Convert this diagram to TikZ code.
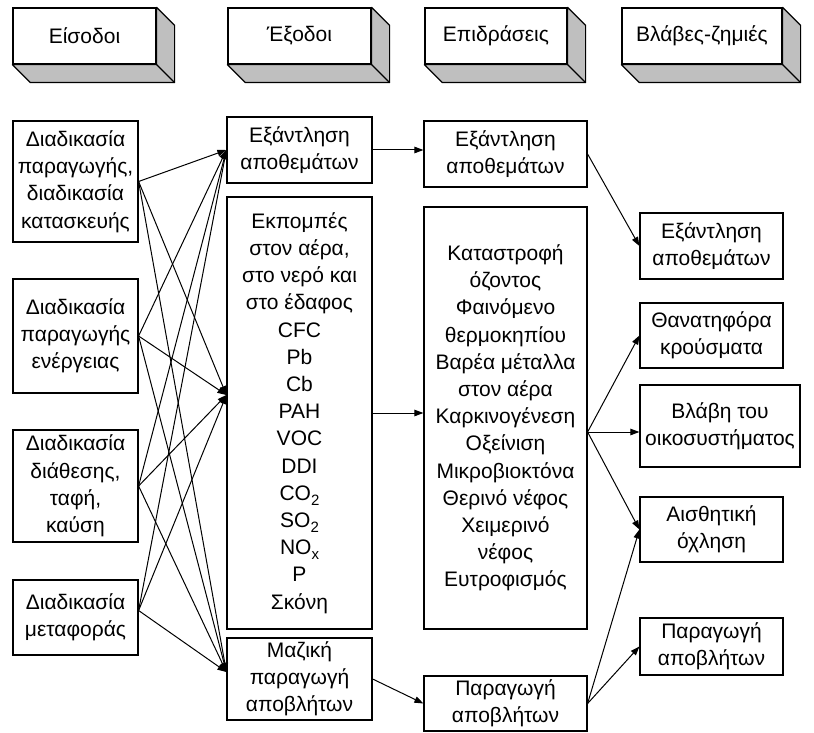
\documentclass[tikz,border=0pt]{standalone}
\usepackage{fontspec}
\setmainfont{Liberation Sans}
\usetikzlibrary{arrows.meta,calc}
\newcommand\mysub[1]{\raisebox{-5pt}{\fontsize{15}{15}\selectfont #1}}
\begin{document}
\begin{tikzpicture}[x=1pt,y=-1pt,
  box/.style={draw,line width=1.2pt,fill=white,inner sep=0pt,align=center,
    font=\fontsize{21}{27.2}\selectfont},
  hdr/.style={box,minimum height=56pt},
  side/.style={draw,line width=1.2pt,fill=black!25,line join=round},
  conn/.style={line width=1pt,-{Triangle[length=9pt,width=6.5pt]}},
]
\useasboundingbox (0,0) rectangle (814,733);
\newcommand\mycuboid[1]{%
  \filldraw[side] (#1.north east) -- ++(18,18) -- ($(#1.south east)+(18,18)$)
    -- ($(#1.south west)+(18,18)$) -- (#1.south west) -- (#1.south east) -- cycle;
  \draw[line width=1.2pt] (#1.south east) -- ++(18,18);}

% headers
\node[hdr,minimum width=143pt] (h1) at (84.5,36) {Είσοδοι};
\node[hdr,minimum width=143pt] (h2) at (299.5,36) {Έξοδοι};
\node[hdr,minimum width=142pt] (h3) at (496,36) {Επιδράσεις};
\node[hdr,minimum width=160pt] (h4) at (702,36) {Βλάβες-ζημιές};
\mycuboid{h1}\mycuboid{h2}\mycuboid{h3}\mycuboid{h4}

% column 1
\node[box,minimum width=125pt,minimum height=121pt] (a1) at (75.5,181.5)
  {Διαδικασία\\παραγωγής,\\διαδικασία\\κατασκευής};
\node[box,minimum width=125pt,minimum height=114pt] (a2) at (75.5,336)
  {Διαδικασία\\παραγωγής\\ενέργειας};
\node[box,minimum width=125pt,minimum height=112pt] (a3) at (75.5,486)
  {Διαδικασία\\διάθεσης,\\ταφή,\\καύση};
\node[box,minimum width=125pt,minimum height=75pt] (a4) at (75.5,617.5)
  {Διαδικασία\\μεταφοράς};

% column 2
\node[box,minimum width=145pt,minimum height=66pt] (b1) at (299.5,150)
  {Εξάντληση\\αποθεμάτων};
\node[box,minimum width=145pt,minimum height=432pt] (b2) at (299.5,413)
  {Εκπομπές\\στον αέρα,\\στο νερό και\\στο έδαφος\\CFC\\Pb\\Cb\\PAH\\VOC\\DDI\\CO\mysub{2}\\SO\mysub{2}\\NO\mysub{x}\\P\\Σκόνη};
\node[box,minimum width=145pt,minimum height=82pt] (b3) at (299.5,679)
  {Μαζική\\παραγωγή\\αποβλήτων};

% column 3
\node[box,minimum width=163pt,minimum height=66pt] (c1) at (505.5,154)
  {Εξάντληση\\αποθεμάτων};
\node[box,minimum width=163pt,minimum height=422pt] (c2) at (505.5,418)
  {Καταστροφή\\όζοντος\\Φαινόμενο\\θερμοκηπίου\\Βαρέα μέταλλα\\στον αέρα\\Καρκινογένεση\\Οξείνιση\\Μικροβιοκτόνα\\Θερινό νέφος\\Χειμερινό\\νέφος\\Ευτροφισμός};
\node[box,minimum width=163pt,minimum height=55pt] (c3) at (505.5,703.5)
  {Παραγωγή\\αποβλήτων};

% column 4
\node[box,minimum width=143pt,minimum height=66pt] (d1) at (711.5,246)
  {Εξάντληση\\αποθεμάτων};
\node[box,minimum width=143pt,minimum height=65pt] (d2) at (711.5,335.5)
  {Θανατηφόρα\\κρούσματα};
\node[box,minimum width=160pt,minimum height=82pt] (d3) at (720,426)
  {Βλάβη του\\οικοσυστήματος};
\node[box,minimum width=143pt,minimum height=65pt] (d4) at (711.5,529.5)
  {Αισθητική\\όχληση};
\node[box,minimum width=143pt,minimum height=57pt] (d5) at (711.5,646.5)
  {Παραγωγή\\αποβλήτων};

% helper coordinates
\coordinate (s4) at ($(a4.east)+(0,-7)$);
\coordinate (t2) at ($(b2.west)+(0,-18)$);
\coordinate (t3) at ($(b3.west)+(0,-7)$);
\coordinate (u2) at ($(c2.east)+(0,14)$);

% connectors col1 -> col2
\foreach \s in {a1.east,a2.east,a3.east,s4}
  \foreach \t in {b1.west,t2,t3}
    \draw[conn] (\s) -- (\t);

% col2 -> col3
\draw[conn] (b1.east) -- (b1.east -| c1.west);
\draw[conn] (b2.east) -- (b2.east -| c2.west);
\draw[conn] (b3.east) -- (c3.west);

% col3 -> col4
\draw[conn] (c1.east) -- (d1.west);
\draw[conn] (u2) -- (d2.west);
\draw[conn] (u2) -- (u2 -| d3.west);
\draw[conn] (u2) -- (d4.west);
\draw[conn] (c3.east) -- (d4.west);
\draw[conn] (c3.east) -- (d5.west);
\end{tikzpicture}
\end{document}
